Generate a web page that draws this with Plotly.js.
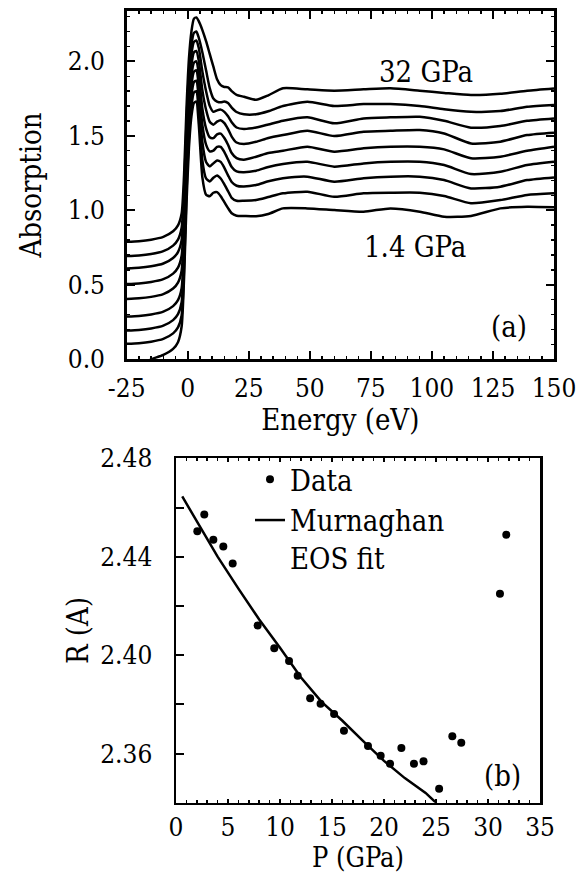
<!DOCTYPE html>
<html>
<head>
<meta charset="utf-8">
<script src="https://cdn.plot.ly/plotly-3.0.1.min.js"></script>
<style>html,body{margin:0;padding:0;background:#fff;}#chart{width:582px;height:873px;}</style>
</head>
<body>
<div id="chart"></div>
<script>
// ---- Panel (a): absorption spectra, energy grid (eV) ----
const energy = [-25,-20,-15,-10,-6,-4,-2.5,-1.5,-0.5,0.5,1.5,2.5,3.5,4.5,6,7.5,9,10.5,12,13.5,15,16.5,18,20,23,28,33,39,49,60,72,83,95,105,116,128,139,150];

// spectra from lowest (1.4 GPa) to highest (32 GPa) pressure, offset as in the figure
const spec1 = [-0.07,-0.04,0,0.03,0.07,0.115,0.22,0.55,1.05,1.42,1.63,1.72,1.73,1.580,1.220,1.105,1.095,1.118,1.122,1.095,1.055,1.015,0.980,0.964,0.962,0.960,0.975,1.013,1.013,1.002,0.991,1.013,0.991,0.957,0.962,1.013,1.024,1.020];
const spec2 = [0.104,0.108,0.118,0.137,0.174,0.214,0.294,0.613,1.122,1.495,1.698,1.79,1.80,1.664,1.334,1.214,1.194,1.219,1.234,1.214,1.174,1.129,1.084,1.064,1.064,1.069,1.089,1.114,1.125,1.091,1.114,1.118,1.118,1.096,1.047,1.069,1.103,1.114];
const spec3 = [0.193,0.197,0.207,0.226,0.263,0.303,0.383,0.696,1.199,1.568,1.769,1.86,1.87,1.755,1.455,1.325,1.295,1.315,1.335,1.325,1.285,1.235,1.190,1.165,1.160,1.170,1.195,1.215,1.226,1.192,1.215,1.226,1.226,1.203,1.147,1.159,1.203,1.221];
const spec4 = [0.287,0.291,0.301,0.320,0.357,0.397,0.477,0.783,1.279,1.643,1.841,1.93,1.94,1.841,1.571,1.441,1.396,1.401,1.426,1.426,1.391,1.341,1.291,1.261,1.256,1.266,1.291,1.311,1.326,1.293,1.315,1.326,1.326,1.304,1.244,1.259,1.304,1.326];
const spec5 = [0.405,0.409,0.419,0.438,0.475,0.515,0.595,0.884,1.362,1.713,1.904,1.99,2.00,1.920,1.680,1.550,1.490,1.485,1.510,1.515,1.485,1.440,1.385,1.350,1.340,1.360,1.385,1.400,1.427,1.394,1.416,1.427,1.427,1.409,1.349,1.360,1.400,1.427];
const spec6 = [0.505,0.509,0.519,0.538,0.575,0.615,0.695,0.975,1.444,1.788,1.976,2.06,2.07,2.005,1.805,1.675,1.595,1.575,1.595,1.605,1.585,1.545,1.495,1.455,1.445,1.460,1.485,1.505,1.534,1.499,1.528,1.534,1.539,1.516,1.449,1.461,1.505,1.521];
const spec7 = [0.610,0.614,0.624,0.643,0.680,0.720,0.800,1.069,1.528,1.865,2.048,2.13,2.14,2.091,1.931,1.801,1.701,1.661,1.671,1.676,1.661,1.631,1.591,1.556,1.546,1.556,1.576,1.601,1.624,1.584,1.617,1.624,1.628,1.601,1.555,1.566,1.601,1.617];
const spec8 = [0.693,0.697,0.707,0.726,0.763,0.803,0.883,1.145,1.597,1.929,2.11,2.19,2.20,2.160,2.060,1.940,1.820,1.750,1.730,1.725,1.730,1.720,1.690,1.660,1.645,1.645,1.665,1.700,1.729,1.700,1.713,1.713,1.700,1.678,1.662,1.666,1.695,1.707];
const spec9 = [0.789,0.793,0.803,0.822,0.859,0.899,0.979,1.24,1.69,2.02,2.20,2.285,2.295,2.270,2.210,2.135,2.050,1.964,1.880,1.840,1.828,1.826,1.800,1.775,1.762,1.742,1.772,1.819,1.812,1.803,1.812,1.819,1.803,1.788,1.774,1.782,1.803,1.818];
const spectra = [spec1,spec2,spec3,spec4,spec5,spec6,spec7,spec8,spec9];
const energyTicks = [-25,0,25,50,75,100,125,150];
const absorptionTicks = [0,0.5,1.0,1.5,2.0];

// ---- Panel (b): bond length vs pressure ----
const pressure = [2.05,2.72,3.59,4.55,5.45,7.85,9.45,10.87,11.7,12.9,13.9,15.2,16.15,18.46,19.68,20.58,21.67,22.88,23.8,25.3,26.57,27.43,31.15,31.76];
const distance = [2.4503,2.4572,2.4469,2.4441,2.4372,2.412,2.4028,2.3976,2.3916,2.3825,2.3802,2.3761,2.3692,2.363,2.3591,2.3558,2.3622,2.3558,2.3568,2.3457,2.367,2.3644,2.4249,2.4489];
const fitPressure = [0.6,2,4,6,8,10,12,14,16,18,20,22,24,25];
const fitDistance = [2.4645,2.4545,2.440,2.427,2.4145,2.403,2.391,2.381,2.3733,2.365,2.357,2.350,2.344,2.340];
const pressureTicks = [0,5,10,15,20,25,30,35];
const distanceTicks = [2.36,2.40,2.44,2.48];

const FONT = '"DejaVu Serif Condensed", "DejaVu Serif", serif';
const traces = spectra.map(s => ({
  x: energy, y: s, mode: 'lines', xaxis: 'x', yaxis: 'y',
  line: {color: 'black', width: 2.5, shape: 'spline', smoothing: 0.6},
  showlegend: false, hoverinfo: 'skip'
}));
traces.push({
  x: pressure, y: distance, mode: 'markers', xaxis: 'x2', yaxis: 'y2',
  name: 'Data', marker: {color: 'black', size: 8}
});
traces.push({
  x: fitPressure, y: fitDistance, mode: 'lines', xaxis: 'x2', yaxis: 'y2',
  name: 'Murnaghan<br>EOS fit', line: {color: 'black', width: 2.5}
});

const W = 582, H = 873;
const axCommon = {
  showline: true, linecolor: 'black', linewidth: 2.5, ticks: 'inside',
  tickcolor: 'black', tickwidth: 2, showgrid: false, zeroline: false,
  tickfont: {family: FONT, size: 26, color: 'black'}
};
const layout = {
  width: W, height: H, margin: {l: 0, r: 0, t: 0, b: 0},
  paper_bgcolor: 'white', plot_bgcolor: 'white',
  font: {family: FONT, color: 'black'},
  xaxis: Object.assign({}, axCommon, {
    domain: [126.7/W, 554/W], anchor: 'y', range: [-25, 150],
    tickmode: 'array', tickvals: energyTicks, ticktext: energyTicks.map(String),
    ticklen: 8, mirror: 'allticks', ticklabelstandoff: 4,
    minor: {dtick: 5, tick0: 0, ticks: 'inside', ticklen: 3, tickwidth: 1.5, tickcolor: 'black'},
    title: {text: 'Energy (eV)', font: {family: FONT, size: 29}, standoff: 5}
  }),
  yaxis: Object.assign({}, axCommon, {
    domain: [(H-359.3)/H, (H-10.7)/H], anchor: 'x', range: [0, 2.34],
    tickmode: 'array', tickvals: absorptionTicks, ticktext: absorptionTicks.map(v => v.toFixed(1)),
    ticklen: 8, mirror: 'allticks', ticklabelstandoff: 14,
    minor: {dtick: 0.1, tick0: 0, ticks: 'inside', ticklen: 3, tickwidth: 1.5, tickcolor: 'black'},
    title: {text: 'Absorption', font: {family: FONT, size: 29}, standoff: 18}
  }),
  xaxis2: Object.assign({}, axCommon, {
    domain: [176/W, 540/W], anchor: 'y2', range: [0, 35],
    tickmode: 'array', tickvals: pressureTicks, ticktext: pressureTicks.map(String),
    ticklen: 4, mirror: 'allticks', ticklabelstandoff: 0,
    minor: {dtick: 1, tick0: 0, ticks: 'inside', ticklen: 3, tickwidth: 1.5, tickcolor: 'black'},
    title: {text: 'P (GPa)', font: {family: FONT, size: 27}, standoff: 3}
  }),
  yaxis2: Object.assign({}, axCommon, {
    domain: [(H-802.7)/H, (H-458.3)/H], anchor: 'x2', range: [2.34, 2.48],
    tickmode: 'array', tickvals: distanceTicks, ticktext: distanceTicks.map(v => v.toFixed(2)),
    ticklen: 8, mirror: true, ticklabelstandoff: 16,
    minor: {dtick: 0.02, tick0: 2.36, ticks: 'inside', ticklen: 8, tickwidth: 2, tickcolor: 'black'},
    title: {text: 'R (A)', font: {family: FONT, size: 29}, standoff: 3}
  }),
  showlegend: true,
  legend: {
    x: 250/W, y: (H-454)/H, xanchor: 'left', yanchor: 'top',
    font: {family: FONT, size: 29, color: 'black'}, bgcolor: 'rgba(0,0,0,0)',
    borderwidth: 0, tracegroupgap: 0, valign: 'top', itemwidth: 30
  },
  annotations: [
    {text: '32 GPa', x: 97.6, y: 1.928, xref: 'x', yref: 'y', showarrow: false, font: {family: FONT, size: 29}},
    {text: '1.4 GPa', x: 93.2, y: 0.754, xref: 'x', yref: 'y', showarrow: false, font: {family: FONT, size: 29}},
    {text: '(a)', x: 131.7, y: 0.217, xref: 'x', yref: 'y', showarrow: false, font: {family: FONT, size: 29}},
    {text: '(b)', x: 31.4, y: 2.351, xref: 'x2', yref: 'y2', showarrow: false, font: {family: FONT, size: 29}}
  ]
};
Plotly.newPlot('chart', traces, layout, {staticPlot: true, displayModeBar: false});
</script>
</body>
</html>
